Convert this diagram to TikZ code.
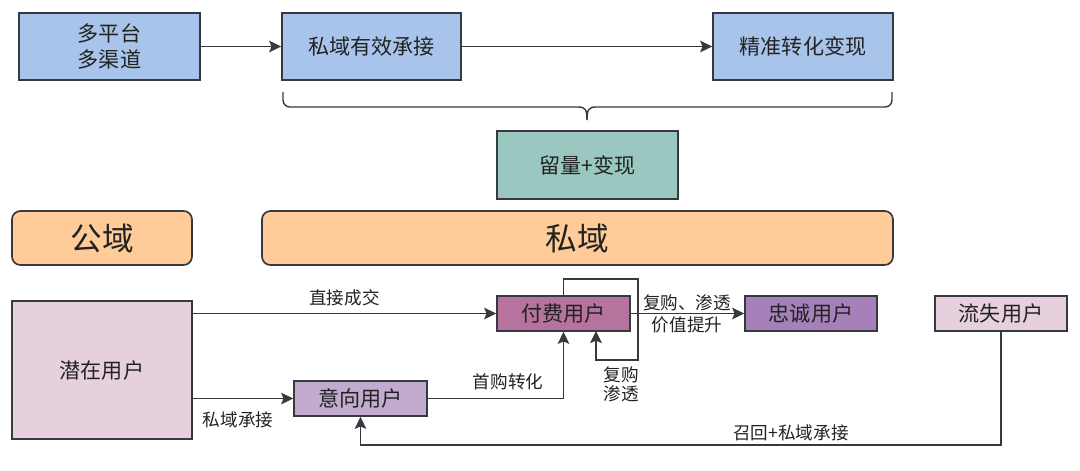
\documentclass[tikz,border=0pt]{standalone}
\usepackage{fontspec}
\setmainfont{Noto Sans CJK SC}
\usetikzlibrary{arrows.meta,positioning}
\definecolor{bline}{HTML}{36393D}
\definecolor{tcol}{HTML}{222222}
\definecolor{cblue}{HTML}{A9C4EB}
\definecolor{cteal}{HTML}{9AC7BF}
\definecolor{corange}{HTML}{FFCC99}
\definecolor{cpale}{HTML}{E6D0DE}
\definecolor{clav}{HTML}{C3ABD0}
\definecolor{cmag}{HTML}{B5739D}
\definecolor{cpurp}{HTML}{A680B8}
\tikzset{
  boxbase/.style={draw=bline, line width=1.2pt, text=tcol, align=center, inner sep=0pt, font=\fontsize{15}{18}\selectfont},
  bigbox/.style={boxbase, rounded corners=6pt, fill=corange, font=\fontsize{22.5}{26}\selectfont},
  sz/.style 2 args={minimum width=#1*0.025cm, minimum height=#2*0.025cm},
  lbl/.style={text=tcol, font=\fontsize{12.5}{14.5}\selectfont, align=center, inner sep=1pt},
  conn/.style={draw=bline, line width=1.2pt},
  arr/.style={conn, -{Stealth[length=3mm,width=2.9mm,inset=0.6mm]}},
}
\begin{document}
\begin{tikzpicture}[x=0.025cm,y=-0.025cm]
\useasboundingbox[fill=white] (0,0) rectangle (1080,470);
% top row
\node[boxbase, fill=cblue, sz={181}{67}] (mp) at (109.5,46.5) {多平台\\多渠道};
\node[boxbase, fill=cblue, sz={179}{67}] (sy) at (371.5,46.5) {私域有效承接};
\node[boxbase, fill=cblue, sz={180}{67}] (jz) at (803,46.5) {精准转化变现};
\draw[arr] (mp) -- (sy);
\draw[arr] (sy) -- (jz);
% brace
\draw[conn, line width=1pt] (283,92) -- (283,100) arc[start angle=180, end angle=90, radius=7] -- (578,107)
  .. controls (585,107) and (587,109) .. (587,120);
\draw[conn, line width=1pt] (892,92) -- (892,100) arc[start angle=0, end angle=90, radius=7] -- (596,107)
  .. controls (589,107) and (587,109) .. (587,120);
\node[boxbase, fill=cteal, sz={181}{68}] (lb) at (587.5,165) {留量+变现};
% domains
\node[bigbox, sz={180}{54}] (gy) at (102,238) {公域};
\node[bigbox, sz={631}{54}] (pd) at (577.5,238) {私域};
% users
\node[boxbase, fill=cpale, sz={180}{138}] (qz) at (102,370) {潜在用户};
\node[boxbase, fill=clav, sz={133}{35}] (yx) at (360.5,398.5) {意向用户};
\node[boxbase, fill=cmag, sz={133}{35}] (ff) at (563.5,313.5) {付费用户};
\node[boxbase, fill=cpurp, sz={132}{35}] (zc) at (811,313.5) {忠诚用户};
\node[boxbase, fill=cpale, sz={132}{35}] (ls) at (1001,313.5) {流失用户};
% connectors
\draw[arr] (qz.east |- ff.west) -- node[lbl, above=4pt, pos=0.5] (l1) {直接成交} (ff.west);
\draw[arr] (qz.east |- yx.west) -- (yx.west);
\node[lbl] (l2) at (238,420) {私域承接};
\draw[arr] (yx.east) -| (ff.south);
\node[lbl] (l3) at (508,382) {首购转化};
\coordinate (lp1) at (638,279);
\coordinate (lp2) at (638,360);
\coordinate (lp3) at (596,331);
\draw[arr] (ff.north) |- (lp1) -- (lp2) -| (lp3);
\node[lbl] (l4) at (621,384) {复购\\[-1pt]渗透};
\draw[arr] (ff.east) -- (zc.west);
\node[lbl] (l5) at (687,303) {复购、渗透};
\node[lbl] (l6) at (687,325) {价值提升};
\coordinate (bt) at (1001,445);
\draw[arr] (ls.south) -- (bt) -| (yx.south);
\node[lbl] (l7) at (791,433) {召回+私域承接};
\end{tikzpicture}
\end{document}
